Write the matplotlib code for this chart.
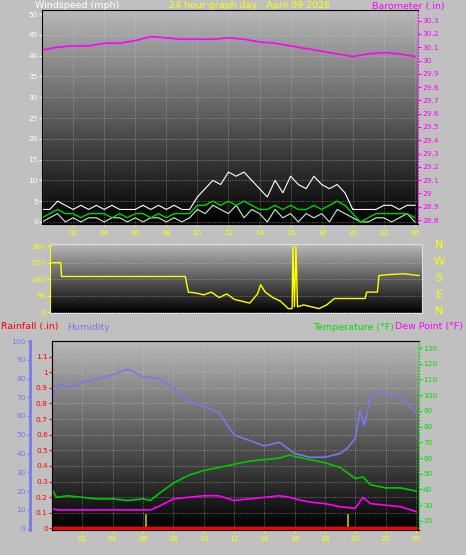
import matplotlib
matplotlib.use("Agg")
import matplotlib.pyplot as plt
import numpy as np

# ---- data ----
hours_h = np.arange(0, 24.5, 0.5)
gust = [3, 3, 5, 4, 3, 4, 3, 4, 3, 4, 3, 3, 3, 4, 3, 4, 3, 4, 3, 3,
        6, 8, 10, 9, 12, 11, 12, 10, 8, 6, 10, 7, 11, 9, 8, 11, 9, 8, 9, 7,
        3, 3, 3, 3, 4, 4, 3, 4, 4]
avg_wind = [1, 2, 3, 2, 2, 1, 2, 2, 2, 1, 2, 1, 2, 2, 1, 2, 1, 2, 2, 2,
            4, 4, 5, 4, 5, 4, 5, 4, 3, 3, 4, 3, 4, 3, 3, 4, 3, 4, 5, 4,
            2, 0, 1, 2, 2, 2, 2, 2, 1]
lull = [0, 1, 2, 0, 1, 0, 1, 1, 0, 1, 1, 0, 1, 0, 1, 1, 0, 1, 0, 1,
        3, 2, 4, 3, 2, 4, 1, 3, 2, 0, 3, 1, 2, 0, 2, 1, 2, 0, 3, 2,
        1, 0, 0, 1, 1, 0, 1, 2, 0]

baro_h = np.arange(0, 25, 1)
baro = [30.08, 30.10, 30.11, 30.11, 30.13, 30.13, 30.15, 30.18, 30.17, 30.16,
        30.16, 30.16, 30.17, 30.16, 30.14, 30.13, 30.11, 30.09, 30.07, 30.05,
        30.03, 30.05, 30.06, 30.05, 30.03]

dir_h = [0, 0.7, 0.75, 8.8, 9.0, 9.5, 10, 10.5, 11, 11.5, 12, 12.5, 13, 13.5,
         13.7, 14, 14.5, 15, 15.5, 15.75, 15.8, 15.9, 16.0, 16.1, 16.5, 17,
         17.5, 18, 18.5, 20.5, 20.6, 21.3, 21.4, 22, 23, 24]
wdir = [270, 270, 195, 195, 110, 105, 95, 110, 80, 100, 70, 60, 50, 100,
        150, 110, 80, 60, 20, 20, 360, 30, 360, 30, 40, 30, 20, 40, 75, 75,
        110, 110, 200, 205, 210, 200]

hum_h = [0, 0.5, 1, 2, 3, 4, 5, 6, 7, 8, 9, 10, 11, 12, 13, 14, 15, 16, 17,
         18, 19, 19.5, 20, 20.3, 20.6, 21, 21.5, 22, 23, 24]
humidity = [70, 77, 75, 78, 80, 82, 85, 81, 80, 75, 68, 65, 62, 50, 47, 44,
            46, 40, 38, 38, 40, 43, 48, 63, 55, 70, 73, 72, 70, 62]

temp_h = [0, 0.3, 1, 2, 3, 4, 5, 6, 6.5, 7, 8, 9, 10, 11, 12, 13, 14, 15,
          15.7, 16, 17, 18, 19, 20, 20.5, 21, 22, 23, 24]
temperature = [40, 35, 36, 35, 34, 34, 33, 34, 33, 37, 44, 49, 52, 54, 56,
               58, 59, 60, 62, 61, 59, 57, 54, 47, 48, 43, 41, 41, 39]
dewpoint = [28, 27, 27, 27, 27, 27, 27, 27, 27, 29, 34, 35, 36, 36, 33, 34,
            35, 36, 35, 34, 32, 31, 29, 28, 35, 31, 30, 29, 26]

rain_h = [0, 24]
rain = [0, 0]
marker_h = [6.2, 19.5]

hour_ticks = list(range(2, 25, 2))
hour_labels = ["%02d" % (h % 24) for h in hour_ticks]

W, H = 466, 555
FS = 6.8
fig = plt.figure(figsize=(W / 100, H / 100), dpi=100)
fig.patch.set_facecolor("#c0c0c0")
grad = np.linspace(0.72, 0.0, 256).reshape(-1, 1)


def box(x0, y0, x1, y1):
    return [x0 / W, 1 - y1 / H, (x1 - x0) / W, (y1 - y0) / H]


def style(ax, col, side="left"):
    ax.tick_params(axis="y", colors=col, labelsize=5.3, length=2, pad=1)
    ax.spines[side].set_color(col)


def bg(ax):
    ax.imshow(grad, cmap="gray", vmin=0, vmax=1, aspect="auto",
              extent=[0, 1, 0, 1], transform=ax.transAxes, zorder=0)
    ax.grid(color="#d0d0d0", linestyle=":", linewidth=0.6, alpha=0.6)
    for s in ax.spines.values():
        s.set_color("#e0e0e0")


# ---- wind / barometer ----
ax1 = fig.add_axes(box(42, 10, 418, 224))
bg(ax1)
ax1.plot(hours_h, gust, color="white", lw=0.8)
ax1.plot(hours_h, lull, color="#c8f0c8", lw=0.8)
ax1.plot(hours_h, avg_wind, color="#00d000", lw=1)
ax1.set_xlim(0, 24.2)
ax1.set_ylim(-0.5, 51)
ax1.set_yticks(range(0, 51, 5))
ax1.set_xticks(hour_ticks)
ax1.set_xticklabels(hour_labels)
ax1.tick_params(axis="x", colors="yellow", labelsize=5.3, length=2, pad=2)
style(ax1, "white")
ax1b = ax1.twinx()
ax1b.plot(baro_h, baro, color="magenta", lw=1.2)
ax1b.set_ylim(28.77, 30.38)
ax1b.set_yticks(np.round(np.arange(28.8, 30.31, 0.1), 1))
ax1b.set_yticklabels([("%.1f" % v).rstrip("0").rstrip(".") for v in np.arange(28.8, 30.31, 0.1)])
style(ax1b, "magenta", "right")
ax1b.spines["right"].set_linestyle(":")
fig.text(35 / W, 1 - 6 / H, "Windspeed (mph)", color="white", fontsize=FS, va="center")
fig.text(250 / W, 1 - 6 / H, "24 hour graph day : April 09 2026", color="yellow",
         fontsize=FS, va="center", ha="center")
fig.text(372 / W, 1 - 6 / H, "Barometer (.in)", color="magenta", fontsize=FS, va="center")

# ---- wind direction ----
ax2 = fig.add_axes(box(50, 244, 422, 313))
bg(ax2)
ax2.plot(dir_h, wdir, color="yellow", lw=1)
ax2.set_xlim(0, 24.2)
ax2.set_ylim(-4, 372)
ax2.set_yticks([0, 90, 180, 270, 360])
ax2.set_xticks([])
style(ax2, "yellow")
for i, lab in enumerate(["N", "W", "S", "E", "N"]):
    fig.text(439 / W, 1 - (245 + i * 16.5) / H, lab, color="yellow", fontsize=8, ha="center", va="center")

# ---- rain / humidity / temperature ----
ax3 = fig.add_axes(box(52, 341, 419, 530))
bg(ax3)
ax3.plot(rain_h, rain, color="red", lw=2.5, zorder=5)
for m in marker_h:
    ax3.axvline(m, ymax=0.08, color="#c8c000", lw=1.2)
ax3.set_xlim(0, 24.2)
ax3.set_ylim(-0.01, 1.2)
ax3.set_yticks(np.round(np.arange(0, 1.11, 0.1), 1))
ax3.set_yticklabels(["0"] + ["%.1f" % v for v in np.arange(0.1, 0.95, 0.1)] + ["1", "1.1"])
ax3.set_xticks(hour_ticks)
ax3.set_xticklabels(hour_labels)
ax3.tick_params(axis="x", colors="yellow", labelsize=5.3, length=2, pad=2)
style(ax3, "red")
ax3.spines["left"].set_linestyle(":")

axh = ax3.twinx()
axh.yaxis.set_ticks_position("left")
axh.spines["left"].set_visible(True)
axh.spines["left"].set_position(("outward", 16))
axh.spines["left"].set_linewidth(2)
axh.plot(hum_h, humidity, color="#7878f0", lw=1.2)
axh.set_ylim(-0.8, 100)
axh.set_yticks(range(0, 101, 10))
style(axh, "#7878f0")
axh.spines["right"].set_visible(False)

axt = ax3.twinx()
axt.plot(temp_h, temperature, color="#00c800", lw=1.2)
axt.plot(temp_h, dewpoint, color="magenta", lw=1.2)
axt.set_ylim(14.2, 134.5)
axt.set_yticks(range(20, 131, 10))
style(axt, "#00e000", "right")
axt.spines["right"].set_linestyle(":")

fig.text(1 / W, 1 - 327 / H, "Rainfall (.in)", color="red", fontsize=FS, va="center")
fig.text(67 / W, 1 - 327 / H, "Humidity", color="#7878f0", fontsize=FS, va="center")
fig.text(313 / W, 1 - 327 / H, "Temperature (°F)", color="#00e000", fontsize=FS, va="center")
fig.text(463 / W, 1 - 327 / H, "Dew Point (°F)", color="magenta", fontsize=FS, va="center", ha="right")

fig.savefig("out.png", dpi=100, facecolor=fig.get_facecolor())
